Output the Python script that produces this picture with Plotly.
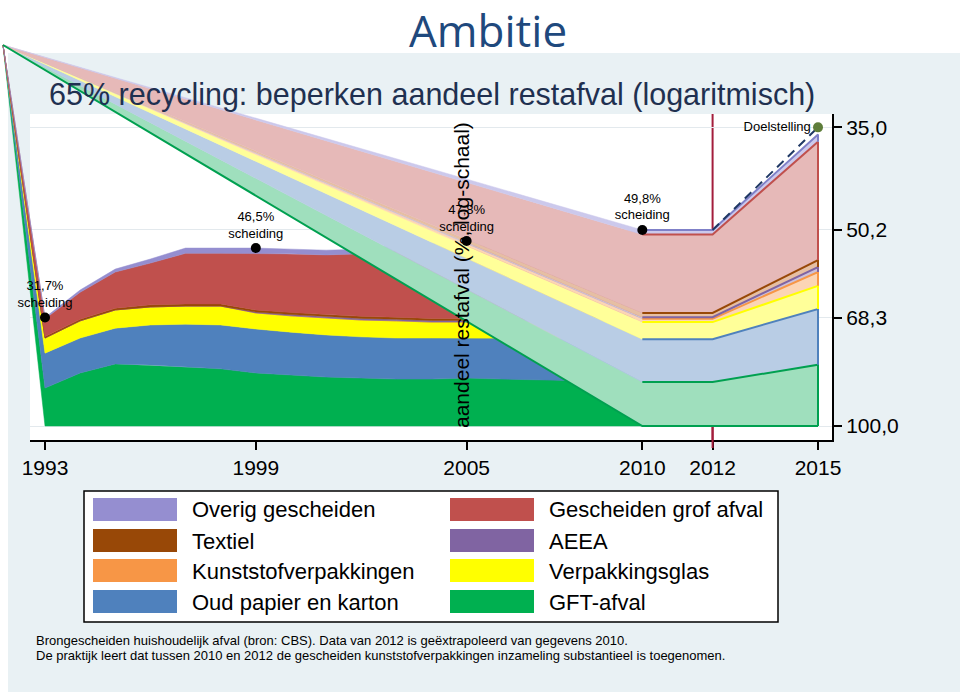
import numpy as np
import plotly.graph_objects as go

# Categories stacked from the bottom (GFT) to the top (overig gescheiden)
categories = ["GFT-afval", "Oud papier en karton", "Verpakkingsglas", "Kunststofverpakkingen",
              "AEEA", "Textiel", "Gescheiden grof afval", "Overig gescheiden"]
dark_colors = ["#00b050", "#4f81bd", "#ffff00", "#f79646", "#8064a2", "#984807", "#c0504d", "#958ed0"]
light_colors = ["#9fdfbd", "#b9cde5", "#ffff99", "#fcd5b5", "#ccc1da", "#e6bfa3", "#e6b9b8", "#ccc9ec"]
edge_colors = ["#00a050", "#4f81bd", "#ffff00", "#f79646", "#8064a2", "#984807", "#c0504d", "#7f80c8"]

# Realised separate collection (% of household waste), 1993-2010
years = list(range(1993, 2011))
gft = [12.5, 17.0, 19.6, 19.3, 18.7, 18.2, 17.0, 16.4, 15.8, 15.5, 15.2, 15.2, 15.5, 15.2, 15.0, 14.8, 14.5, 14.3]
papier = [10.1, 9.6, 9.5, 10.6, 11.4, 11.7, 11.9, 11.7, 11.6, 11.4, 11.4, 11.4, 11.1, 11.4, 11.6, 11.8, 12.0, 12.0]
glas = [4.0, 4.3, 4.4, 4.3, 4.3, 4.5, 3.9, 4.0, 4.2, 4.2, 4.3, 4.0, 4.0, 4.1, 4.2, 4.2, 4.3, 4.3]
kunststof = [0, 0, 0, 0, 0, 0, 0, 0, 0, 0, 0, 0, 0, 0, 0, 0, 0.4, 0.8]
aeea = [0, 0, 0, 0, 0, 0, 0.2, 0.3, 0.3, 0.4, 0.4, 0.4, 0.4, 0.4, 0.4, 0.4, 0.4, 0.4]
textiel = [0.4, 0.4, 0.4, 0.5, 0.5, 0.5, 0.5, 0.5, 0.5, 0.5, 0.5, 0.5, 0.5, 0.6, 0.7, 0.8, 0.9, 1.0]
grof = [4.4, 6.2, 7.9, 8.9, 10.6, 10.6, 12.0, 12.5, 12.8, 13.4, 14.3, 15.0, 15.4, 15.7, 16.0, 16.4, 16.2, 16.2]
overig = [0.3, 0.5, 0.6, 0.8, 1.0, 1.0, 1.0, 0.9, 0.9, 0.9, 0.9, 0.9, 0.9, 0.9, 0.8, 0.8, 0.8, 0.8]

# Extrapolation 2010 -> 2012 and ambition 2015
proj_years = [2010, 2012, 2015]
gft_proj = [14.3, 14.3, 19.4]
papier_proj = [12.0, 12.0, 14.3]
glas_proj = [4.3, 4.3, 5.2]
kunststof_proj = [0.8, 0.8, 2.9]
aeea_proj = [0.4, 0.4, 1.0]
textiel_proj = [1.0, 1.0, 1.4]
grof_proj = [16.2, 16.2, 19.0]
overig_proj = [0.8, 0.8, 0.9]

scheiding_years = [1993, 1999, 2005, 2010]
scheiding_pct = [31.7, 46.5, 47.8, 49.8]
target_year = 2015
target_pct = 65.0
dashed_years = [2012, 2015]
dashed_pct = [49.8, 65.0]

xtick_vals = [1993, 1999, 2005, 2010, 2012, 2015]
ytick_vals = [35.0, 50.2, 68.3, 100.0]
ytick_text = ["35,0", "50,2", "68,3", "100,0"]

FONT = "Arial, 'Liberation Sans', sans-serif"
W, H = 960, 692
# plot box in pixels and the pixel anchors of the scales
PL, PR, PT, PB = 30, 832, 114, 440


def px_to_year(px):
    return 1993 + (px - 45) * 22 / (818 - 45)


def py_to_log(py):
    return 2 - (426 - py) / 655


def px(v):
    return v / W


def py(v):
    return (H - v) / H


# the point where every area polygon is closed (top left of the slide)
CX = px_to_year(3)
CY = 10 ** py_to_log(45)

fig = go.Figure()


def add_stack(xs, series, colors, lines=False):
    vals = np.array(series, dtype=float)
    cum = np.vstack([np.zeros(len(xs)), np.cumsum(vals, axis=0)])
    rest = 100 - cum
    for k in range(len(series)):
        lower, upper = list(rest[k]), list(rest[k + 1])
        fig.add_trace(go.Scatter(
            x=[CX] + list(xs) + list(xs)[::-1] + [CX],
            y=[CY] + lower + upper[::-1] + [CY],
            xaxis="x2", yaxis="y2", mode="lines", fill="toself",
            fillcolor=colors[k], line=dict(color=colors[k], width=0.5),
            hoverinfo="skip", showlegend=False))
    if lines:
        for k in range(len(series)):
            lower, upper = list(rest[k]), list(rest[k + 1])
            fig.add_trace(go.Scatter(
                x=list(xs) + [xs[-1]], y=upper + [lower[-1]],
                xaxis="x2", yaxis="y2", mode="lines",
                line=dict(color=edge_colors[k], width=2),
                hoverinfo="skip", showlegend=False))
        # base line of the projected GFT area
        fig.add_trace(go.Scatter(
            x=[CX] + list(xs), y=[CY] + list(rest[0]),
            xaxis="x2", yaxis="y2", mode="lines",
            line=dict(color=edge_colors[0], width=2),
            hoverinfo="skip", showlegend=False))


add_stack(years, [gft, papier, glas, kunststof, aeea, textiel, grof, overig], dark_colors)
add_stack(proj_years, [gft_proj, papier_proj, glas_proj, kunststof_proj, aeea_proj,
                       textiel_proj, grof_proj, overig_proj], light_colors, lines=True)

# target line
fig.add_trace(go.Scatter(
    x=dashed_years, y=[100 - v for v in dashed_pct], xaxis="x2", yaxis="y2",
    mode="lines", line=dict(color="#1f3864", width=2, dash="9px,6px"),
    hoverinfo="skip", showlegend=False))

# realised separation points
fig.add_trace(go.Scatter(
    x=scheiding_years, y=[100 - v for v in scheiding_pct], xaxis="x2", yaxis="y2",
    mode="markers+text", marker=dict(color="black", size=10),
    text=[f"{v:.1f}%".replace(".", ",") + "<br>scheiding" for v in scheiding_pct],
    textposition="top center", textfont=dict(family=FONT, size=13, color="black"),
    hoverinfo="skip", showlegend=False))

fig.add_trace(go.Scatter(
    x=[target_year], y=[100 - target_pct], xaxis="x2", yaxis="y2",
    mode="markers+text", marker=dict(color="#5e7d3a", size=10),
    text=["Doelstelling"], textposition="middle left",
    textfont=dict(family=FONT, size=13, color="black"),
    hoverinfo="skip", showlegend=False))

shapes = [
    dict(type="rect", xref="paper", yref="paper", x0=px(8), x1=1, y0=0, y1=py(53),
         fillcolor="#e9f1f4", line=dict(width=0), layer="below"),
    dict(type="rect", xref="paper", yref="paper", x0=px(PL), x1=px(PR), y0=py(PB), y1=py(PT),
         fillcolor="white", line=dict(width=0), layer="below"),
    dict(type="line", xref="x", yref="y domain", x0=2012, x1=2012, y0=0, y1=1,
         line=dict(color="#a31d3c", width=2), layer="below"),
    dict(type="line", xref="x", yref="paper", x0=2012, x1=2012, y0=py(448), y1=py(427),
         line=dict(color="#a31d3c", width=2), layer="above"),
    dict(type="rect", xref="paper", yref="paper", x0=px(84), x1=px(778), y0=py(622), y1=py(491),
         fillcolor="white", line=dict(color="black", width=1.5), layer="below"),
]


def note(text, x, y, size, color="black", family=FONT, xanchor="center", angle=0):
    return dict(text=text, xref="paper", yref="paper", x=px(x), y=py(y), showarrow=False,
                xanchor=xanchor, yanchor="middle", textangle=angle,
                font=dict(family=family, size=size, color=color))


annotations = [
    note("Ambitie", 488, 30, 44, "#1f497d", "'Open Sans', sans-serif"),
    note("65% recycling: beperken aandeel restafval (logaritmisch)", 47, 95, 30.5, "#1f3050",
         xanchor="left"),
    note("aandeel restafval (%, log-schaal)", 461, 275, 21, angle=-90),
    note("Brongescheiden huishoudelijk afval (bron: CBS). Data van 2012 is geëxtrapoleerd van gegevens 2010.",
         34, 640, 13, xanchor="left"),
    note("De praktijk leert dat tussen 2010 en 2012 de gescheiden kunststofverpakkingen inzameling substantieel is toegenomen.",
         34, 655, 13, xanchor="left"),
]

# legend: two columns, top of the stack first
legend_idx = list(range(len(categories)))[::-1]
for i, k in enumerate(legend_idx):
    row, col = i // 2, i % 2
    x0 = [93, 450][col]
    y0 = [498, 529, 559, 590][row]
    shapes.append(dict(type="rect", xref="paper", yref="paper", x0=px(x0), x1=px(x0 + 84),
                       y0=py(y0 + 23), y1=py(y0), fillcolor=dark_colors[k],
                       line=dict(width=0), layer="below"))
    annotations.append(note(categories[k], x0 + 97, y0 + 12, 22, xanchor="left"))

fig.update_layout(
    width=W, height=H, autosize=False,
    margin=dict(l=0, r=0, t=0, b=0, pad=0, autoexpand=False),
    paper_bgcolor="white", plot_bgcolor="rgba(0,0,0,0)", showlegend=False,
    xaxis=dict(domain=[px(PL), px(PR)], range=[px_to_year(PL), px_to_year(PR)], anchor="y",
               automargin=False,
               tickvals=xtick_vals, ticks="outside", ticklen=8, tickwidth=2, tickcolor="black",
               showline=True, linecolor="black", linewidth=2, showgrid=False, zeroline=False,
               tickfont=dict(family=FONT, size=21, color="black")),
    yaxis=dict(domain=[py(PB), py(PT)], type="log", range=[py_to_log(PB), py_to_log(PT)],
               anchor="x", side="right", automargin=False,
               tickvals=ytick_vals, ticktext=ytick_text,
               ticks="outside", ticklen=8, tickwidth=2, tickcolor="black",
               showline=True, linecolor="black", linewidth=2, showgrid=True,
               gridcolor="#e3e9ed", gridwidth=1, zeroline=False,
               tickfont=dict(family=FONT, size=21, color="black")),
    xaxis2=dict(domain=[0, 1], range=[px_to_year(0), px_to_year(W)], anchor="y2",
                visible=False, automargin=False),
    yaxis2=dict(domain=[0, 1], type="log", range=[py_to_log(H), py_to_log(0)], anchor="x2",
                visible=False, automargin=False),
    shapes=shapes, annotations=annotations,
)

fig.write_html("out.html", config={"responsive": False, "displayModeBar": False},
               post_script="document.body.style.margin='0';document.body.style.overflow='hidden';")
